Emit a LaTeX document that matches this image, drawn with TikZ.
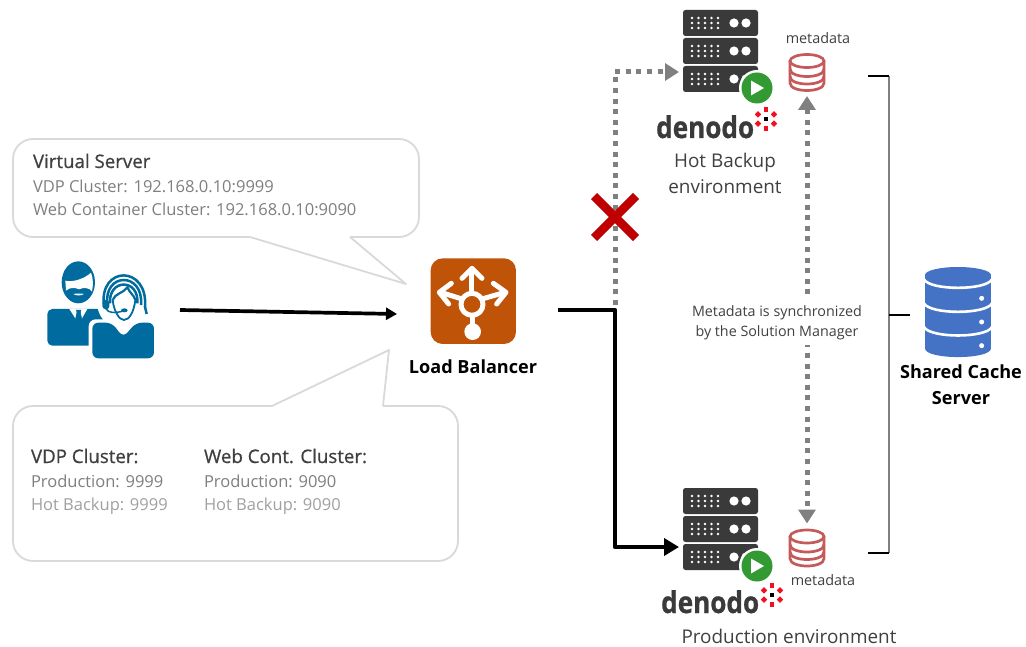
\documentclass[tikz,border=0pt]{standalone}
\usepackage{fontspec}
\setmainfont{Open Sans}
\newfontfamily\semibfont[FakeBold=0.7]{Open Sans}
\newfontfamily\denodofont[FakeBold=0.8,FakeStretch=0.87]{Open Sans Bold}
\usetikzlibrary{arrows.meta}
\definecolor{calloutline}{HTML}{D9D9D9}
\definecolor{titlegray}{HTML}{404040}
\definecolor{midgray}{HTML}{7F7F7F}
\definecolor{lightgray2}{HTML}{A0A0A0}
\definecolor{flowgray}{HTML}{808080}
\definecolor{serverdark}{HTML}{3A3A3A}
\definecolor{playgreen}{HTML}{339933}
\definecolor{dbred}{HTML}{C55A5A}
\definecolor{dbblue}{HTML}{4472C4}
\definecolor{lborange}{HTML}{BF5307}
\definecolor{userblue}{HTML}{006B9F}
\definecolor{xred}{HTML}{C00000}
\definecolor{dotred}{HTML}{F01020}
\tikzset{
  x=1pt,y=-1pt,
  iconbox/.style={inner sep=0pt,outer sep=0pt,draw=none},
  callout/.style={draw=calloutline,line width=1.8pt,fill=white,line join=round},
  txt/.style={inner sep=0pt,outer sep=0pt,anchor=base west,font=\fontsize{16.5}{19}\selectfont},
  heading/.style={txt,font=\fontsize{18.7}{22}\semibfont, text=titlegray},
  bodyg/.style={txt,text=midgray},
  bodyl/.style={txt,text=lightgray2},
  strong/.style={inner sep=0pt,anchor=base,font=\fontsize{18.1}{22}\selectfont\bfseries,text=black},
  envlabel/.style={inner sep=0pt,anchor=base,font=\fontsize{18.9}{23}\selectfont,text=titlegray},
  metalabel/.style={inner sep=0pt,anchor=base,font=\fontsize{14.4}{17}\selectfont,text=titlegray},
  denodoword/.style={inner sep=0pt,anchor=base west,font=\fontsize{30}{32}\denodofont,text=serverdark},
  dotflow/.style={draw=flowgray,line width=5pt,dash pattern=on 5pt off 5.6pt,-{Triangle[length=14pt,width=17pt,fill=flowgray]}},
  dotflowboth/.style={draw=flowgray,line width=5pt,dash pattern=on 5pt off 5.6pt,{Triangle[length=14pt,width=17pt,fill=flowgray]}-{Triangle[length=14pt,width=17pt,fill=flowgray]}},
  blackflow/.style={draw=black,line width=4.6pt,line join=round,-{Triangle[length=15pt,width=17pt]}},
  blackthin/.style={draw=black,line width=3.7pt,-{Triangle[length=11pt,width=12pt]}},
  bracketv/.style={draw=flowgray,line width=1.4pt},
  brackett/.style={draw=black,line width=1.2pt},
  servericon/.pic={
    \foreach \yy in {0,28,56}{
      \fill[serverdark,rounded corners=2.5pt] (0,\yy) rectangle (75,\yy+26);
      \foreach \xx in {9,15.5,22,28.5,35}{
        \foreach \dy in {8,13,18}{\fill[white] (\xx,\yy+\dy) circle (1.3);}
      }
      \fill[white] (51,\yy+13) circle (4.6);
      \fill[white] (63,\yy+13) circle (4.6);
    }
    \fill[white] (74,78) circle (18);
    \fill[playgreen] (74,78) circle (15.5);
    \fill[white] (68,70.5) -- (81,78) -- (68,85.5) -- cycle;
  },
  denododots/.pic={
    \fill[black] (-2.3,-2.3) rectangle (2.3,2.3);
    \foreach \dx/\dy in {0/-9.2, 0/9.2}{
      \fill[dotred] (\dx-2.4,\dy-2.4) rectangle (\dx+2.4,\dy+2.4);
    }
    \foreach \dx/\dy in {8/-4.6, 8/4.6, -8/4.6, -8/-4.6}{
      \fill[dotred] (\dx-3.2,\dy) -- (\dx,\dy-3.2) -- (\dx+3.2,\dy) -- (\dx,\dy+3.2) -- cycle;
    }
  },
  metadb/.pic={
    \draw[dbred,line width=2.7pt,fill=white] (-17,-11) -- (-17,11)
      .. controls (-17,21) and (17,21) .. (17,11) -- (17,-11);
    \draw[dbred,line width=2.7pt] (0,-11) ellipse [x radius=17,y radius=6.5];
    \draw[dbred,line width=2.7pt] (-17,-3) .. controls (-17,7) and (17,7) .. (17,-3);
    \draw[dbred,line width=2.7pt] (-17,4.5) .. controls (-17,14.5) and (17,14.5) .. (17,4.5);
  }
}
\begin{document}
\begin{tikzpicture}
\useasboundingbox (0,0) rectangle (1026,647);

% callouts
\draw[callout,rounded corners=20pt] (250,237) -- (13,237) -- (13,139) -- (419,139) -- (419,237) -- (350,237);
\draw[callout] (250,237) -- (406,284) -- (350,237);
\draw[callout,rounded corners=20pt] (272,406) -- (13,406) -- (13,561) -- (458,561) -- (458,406) -- (383,406);
\draw[callout] (272,406) -- (389,350) -- (383,406);

\node[heading] (vstitle) at (33,168) {Virtual Server};
\node[bodyg] (vsvdp) at (33,193) {VDP Cluster: 192.168.0.10:9999};
\node[bodyg] (vsweb) at (33,216) {Web Container Cluster: 192.168.0.10:9090};
\node[heading] (vdptitle) at (31,463) {VDP Cluster:};
\node[bodyg] (vdpprod) at (31,487) {Production: 9999};
\node[bodyl] (vdphot) at (31,510) {Hot Backup: 9999};
\node[heading] (webtitle) at (204,463) {Web Cont. Cluster:};
\node[bodyg] (webprod) at (204,487) {Production: 9090};
\node[bodyl] (webhot) at (204,510) {Hot Backup: 9090};

% users icon (drawn in the 3x crop's coordinates)
\begin{scope}[shift={(30,250)},x=0.3333pt,y=-0.3333pt]
  \fill[userblue,rounded corners=5pt] (52,177) rectangle (240,287);
  \fill[userblue] (145,97) ellipse [x radius=50,y radius=63];
  \fill[white] (106,92) .. controls (130,98) and (165,85) .. (183,68)
     .. controls (190,85) and (190,105) .. (186,125)
     .. controls (178,112) and (160,112) .. (147,118)
     .. controls (135,112) and (118,112) .. (108,122) -- cycle;
  \fill[white] (130,132) .. controls (140,138) and (152,138) .. (162,132)
     .. controls (152,130) and (140,130) .. (130,132) -- cycle;
  \fill[white] (118,177) -- (136,205) -- (140,186) -- (152,186) -- (156,205) -- (172,177) -- cycle;
  \fill[userblue] (138,180) -- (154,180) -- (150,192) -- (142,192) -- cycle;
  % woman
  \fill[white] (282,150) ellipse [x radius=82,y radius=92];
  \fill[white,rounded corners=7pt] (176,208) rectangle (383,336);
  \fill[userblue,rounded corners=6pt] (187,218) -- (245,218) -- (280,262) -- (318,218) -- (372,218) -- (372,325) -- (187,325) -- cycle;
  \draw[userblue,line width=2.5pt] (222,170) .. controls (205,45) and (355,45) .. (345,170) -- (350,192);
  \draw[userblue,line width=2.5pt] (232,165) .. controls (220,65) and (342,65) .. (333,165);
  \draw[userblue,line width=2.5pt] (240,160) .. controls (235,85) and (328,85) .. (322,160);
  \draw[userblue,line width=2.2pt] (248,150) .. controls (255,130) and (280,130) .. (292,112) .. controls (300,130) and (312,135) .. (316,150);
  \draw[userblue,line width=1.8pt] (248,150) .. controls (252,185) and (268,210) .. (282,210) .. controls (298,210) and (312,185) .. (316,150);
  \fill[userblue,rounded corners=3pt] (218,150) rectangle (238,178);
  \draw[userblue,line width=1.5pt] (228,176) .. controls (235,190) and (255,190) .. (280,183);
  \fill[userblue] (283,181) ellipse [x radius=10,y radius=6];
\end{scope}
\node[iconbox,minimum width=108pt,minimum height=97pt] (users) at (101,310) {};

% load balancer icon
\begin{scope}[shift={(410,250)},x=0.3333pt,y=-0.3333pt]
  \fill[lborange,rounded corners=12pt] (62,25) rectangle (318,282);
  \begin{scope}[draw=white,line width=5pt,line cap=round,line join=round]
    \draw (186,163) circle [x radius=33,y radius=33];
    \draw (186,130) -- (186,60);
    \draw (156,85) -- (186,55) -- (216,85);
    \draw (156,147) -- (92,127);
    \draw (124,100) -- (88,127) -- (116,162);
    \draw (216,147) -- (285,127);
    \draw (250,100) -- (288,127) -- (260,162);
    \draw (187,196) -- (187,240);
  \end{scope}
  \fill[white] (188,245) circle [x radius=25,y radius=25];
\end{scope}
\node[iconbox,minimum width=85pt,minimum height=85pt] (lb) at (473.5,301.5) {};
\node[strong] (lblabel) at (473,373) {Load Balancer};

% server icons
\pic at (683,10) {servericon};
\pic at (683,488) {servericon};
\node[iconbox,minimum width=75pt,minimum height=82pt] (hot) at (720.5,51) {};
\node[iconbox,minimum width=75pt,minimum height=82pt] (prod) at (720.5,529) {};

% denodo logos
\node[denodoword] (denodotop) at (656,138) {denodo};
\node[denodoword] (denodobot) at (661,613) {denodo};
\pic at (766,119) {denododots};
\pic at (772,595) {denododots};
\node[envlabel] (hotl1) at (725,167.5) {Hot Backup};
\node[envlabel] (hotl2) at (725,194) {environment};
\node[envlabel] (prodl) at (789,643.5) {Production environment};

% metadata
\pic at (807,72) {metadb};
\pic at (807,547.5) {metadb};
\node[iconbox,minimum width=36pt,minimum height=38pt] (metatop) at (807,72) {};
\node[iconbox,minimum width=36pt,minimum height=38pt] (metabot) at (807,547.5) {};
\node[metalabel] (metatoplabel) at (818,44) {metadata};
\node[metalabel] (metabotlabel) at (823,585) {metadata};

% connector coordinates
\coordinate (usersout) at (180,310);
\coordinate (lbin) at (397,314);
\coordinate (lbout) at (558,310);
\coordinate (turn) at (615,310);
\coordinate (hotin) at (679,72);
\coordinate (prodin) at (679,547);
\coordinate (turnup) at (615,305);

\draw[dotflow] (turnup) |- (hotin);
\draw[blackthin] (usersout) -- (lbin);
\draw[blackflow] (lbout) -- (turn) |- (prodin);

% sync link
\draw[dotflowboth] ([yshift=-5pt]metatop.south) -- ([yshift=5pt]metabot.north);
\node[inner sep=0pt,fill=white,minimum width=172pt,minimum height=44pt,align=center,font=\fontsize{14.3}{20}\selectfont,text=titlegray] (synclabel) at (777,322.5) {Metadata is synchronized\\by the Solution Manager};

% X mark
\coordinate (xa) at (594,196);
\coordinate (xb) at (636,238);
\coordinate (xc) at (636,196);
\coordinate (xd) at (594,238);
\draw[xred,line width=8.5pt] (xa) -- (xb);
\draw[xred,line width=8.5pt] (xc) -- (xd);

% bracket
\coordinate (brtop) at (868,76);
\coordinate (brtopc) at (889,76);
\coordinate (brbot) at (868,553);
\coordinate (brbotc) at (889,553);
\coordinate (brmid) at (889,315);
\coordinate (brend) at (910,315);
\draw[bracketv] (brtopc) -- (brbotc);
\draw[brackett] (brtop) -- (brtopc);
\draw[brackett] (brbot) -- (brbotc);
\draw[brackett] (brmid) -- (brend);

% shared cache icon
\begin{scope}[shift={(880,250)},x=0.3333pt,y=-0.3333pt]
  \fill[dbblue] (135,75) -- (135,295) .. controls (135,330) and (333,330) .. (333,295) -- (333,75) -- cycle;
  \fill[dbblue] (234,75) ellipse [x radius=99,y radius=24];
  \draw[white,line width=2.6pt] (132,88) .. controls (150,122) and (318,122) .. (336,88);
  \draw[white,line width=2.6pt] (132,160) .. controls (150,194) and (318,194) .. (336,160);
  \draw[white,line width=2.6pt] (132,231) .. controls (150,265) and (318,265) .. (336,231);
  \foreach \yy in {145,216,287}{\fill[white] (305,\yy) circle [x radius=7.5,y radius=7.5];}
\end{scope}
\node[iconbox,minimum width=66pt,minimum height=90pt] (cache) at (958,312) {};
\node[strong] (cachel1) at (961,378) {Shared Cache};
\node[strong] (cachel2) at (961,404) {Server};
\end{tikzpicture}
\end{document}
